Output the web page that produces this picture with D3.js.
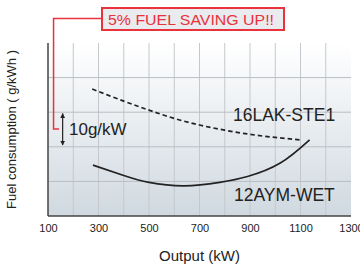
<!DOCTYPE html>
<html>
<head>
<meta charset="utf-8">
<script src="https://cdn.jsdelivr.net/npm/d3@7"></script>
<style>
  body { margin: 0; background: #fff; }
  text { font-family: "Liberation Sans", Arial, sans-serif; }
</style>
</head>
<body>
<div id="canvas"></div>
<script>
"use strict"

let svgWidth = 360
let svgHeight = 269

// plot box in pixels
let margin = { top: 43, right: 9, bottom: 53, left: 48 }

// data (output kW, fuel g/kWh, arbitrary base)
let xTicks = [100, 300, 500, 700, 900, 1100, 1300]
let xGrid = [200, 300, 400, 500, 600, 700, 800, 900, 1000, 1100, 1200]
let yGrid = [190, 200, 210, 220]

let lakOutput = [275, 400, 500, 600, 700, 800, 900, 1000, 1100]
let lakFuel = [216.7, 213.2, 210.6, 208.2, 206.3, 204.8, 203.6, 202.7, 202.0]

let aymOutput = [278, 400, 500, 640, 780, 890, 1020, 1136]
let aymFuel = [194.7, 191.7, 189.7, 188.7, 189.7, 191.4, 195.3, 202.0]

let svg = d3.select("#canvas")
    .append("svg")
    .attr("width", svgWidth)
    .attr("height", svgHeight)

let width = svgWidth - margin.left - margin.right
let height = svgHeight - margin.top - margin.bottom

let xScale = d3.scaleLinear().domain([100, 1300]).range([margin.left, margin.left + width])
let yScale = d3.scaleLinear().domain([180, 230]).range([margin.top + height, margin.top])

// background gradient
let defs = svg.append("defs")
let grad = defs.append("linearGradient")
    .attr("id", "bg")
    .attr("x1", 0).attr("y1", 0).attr("x2", 0).attr("y2", 1)
grad.append("stop").attr("offset", "0%").attr("stop-color", "#ffffff")
grad.append("stop").attr("offset", "100%").attr("stop-color", "#d0d9e0")

svg.append("rect")
    .attr("x", margin.left)
    .attr("y", margin.top)
    .attr("width", width)
    .attr("height", height)
    .attr("fill", "url(#bg)")

// grid
svg.selectAll("line.vgrid")
    .data(xGrid)
    .join("line")
    .attr("class", "vgrid")
    .attr("x1", d => xScale(d)).attr("x2", d => xScale(d))
    .attr("y1", margin.top).attr("y2", margin.top + height)
    .attr("stroke", "#c4c8cc")
    .attr("stroke-width", 1)

svg.selectAll("line.hgrid")
    .data(yGrid)
    .join("line")
    .attr("class", "hgrid")
    .attr("x1", margin.left).attr("x2", margin.left + width)
    .attr("y1", d => yScale(d)).attr("y2", d => yScale(d))
    .attr("stroke", "#b8bec4")
    .attr("stroke-width", 1)

// axes lines
svg.append("line")
    .attr("x1", margin.left).attr("x2", margin.left)
    .attr("y1", margin.top).attr("y2", margin.top + height)
    .attr("stroke", "#444").attr("stroke-width", 1.5)
svg.append("line")
    .attr("x1", margin.left).attr("x2", margin.left + width)
    .attr("y1", margin.top + height).attr("y2", margin.top + height)
    .attr("stroke", "#444").attr("stroke-width", 1.5)

// x axis labels
let xAxis = d3.axisBottom(xScale)
    .tickValues(xTicks)
    .tickSize(0)
    .tickPadding(8)
    .tickFormat(d3.format("d"))

let xg = svg.append("g")
    .attr("transform", `translate(0, ${margin.top + height})`)
    .call(xAxis)
xg.select(".domain").remove()
xg.selectAll("text")
    .attr("font-size", 11)
    .attr("font-family", "Liberation Sans, Arial, sans-serif")
    .attr("fill", "#222")

svg.append("text")
    .attr("x", margin.left + width / 2)
    .attr("y", 261)
    .attr("text-anchor", "middle")
    .attr("font-size", 15)
    .attr("fill", "#222")
    .text("Output (kW)")

svg.append("text")
    .attr("transform", `translate(16, ${(margin.top + margin.top + height) / 2}) rotate(-90)`)
    .attr("text-anchor", "middle")
    .attr("font-size", 13)
    .attr("fill", "#222")
    .text("Fuel consumption ( g/kWh )")

// curves
let line = d3.line()
    .x(d => xScale(d[0]))
    .y(d => yScale(d[1]))
    .curve(d3.curveNatural)

svg.append("path")
    .attr("d", line(d3.zip(lakOutput, lakFuel)))
    .attr("fill", "none")
    .attr("stroke", "#222")
    .attr("stroke-width", 1.7)
    .attr("stroke-dasharray", "4.5,3")

svg.append("path")
    .attr("d", line(d3.zip(aymOutput, aymFuel)))
    .attr("fill", "none")
    .attr("stroke", "#222")
    .attr("stroke-width", 1.7)

svg.append("text")
    .attr("x", 233)
    .attr("y", yScale(207.4))
    .attr("font-size", 17.5)
    .attr("fill", "#222")
    .text("16LAK-STE1")

svg.append("text")
    .attr("x", 234)
    .attr("y", yScale(184.4))
    .attr("font-size", 17.5)
    .attr("fill", "#222")
    .text("12AYM-WET")

// 10g/kW scale marker
let arrowX = xScale(158)
defs.append("marker")
    .attr("id", "ah")
    .attr("viewBox", "0 0 10 10")
    .attr("refX", 9).attr("refY", 5)
    .attr("markerWidth", 4).attr("markerHeight", 5)
    .attr("orient", "auto-start-reverse")
    .append("path")
    .attr("d", "M0,0 L10,5 L0,10 z")
    .attr("fill", "#222")

svg.append("line")
    .attr("x1", arrowX).attr("x2", arrowX)
    .attr("y1", yScale(209.6)).attr("y2", yScale(200.5))
    .attr("stroke", "#222")
    .attr("stroke-width", 1.2)
    .attr("marker-start", "url(#ah)")
    .attr("marker-end", "url(#ah)")

svg.append("text")
    .attr("x", 69)
    .attr("y", 135)
    .attr("font-size", 17)
    .attr("fill", "#222")
    .text("10g/kW")

// red callout
let red = "#e8323c"
svg.append("path")
    .attr("d", `M102,18.5 H${xScale(122)} V129 H59`)
    .attr("fill", "none")
    .attr("stroke", red)
    .attr("stroke-width", 1.5)

svg.append("rect")
    .attr("x", 102)
    .attr("y", 8)
    .attr("width", 182)
    .attr("height", 22)
    .attr("fill", "#e9ebef")
    .attr("stroke", red)
    .attr("stroke-width", 2)

svg.append("text")
    .attr("x", 108)
    .attr("y", 25)
    .attr("font-size", 15)
    .attr("fill", red)
    .attr("textLength", 166)
    .attr("lengthAdjust", "spacingAndGlyphs")
    .text("5% FUEL SAVING UP!!")
</script>
</body>
</html>
